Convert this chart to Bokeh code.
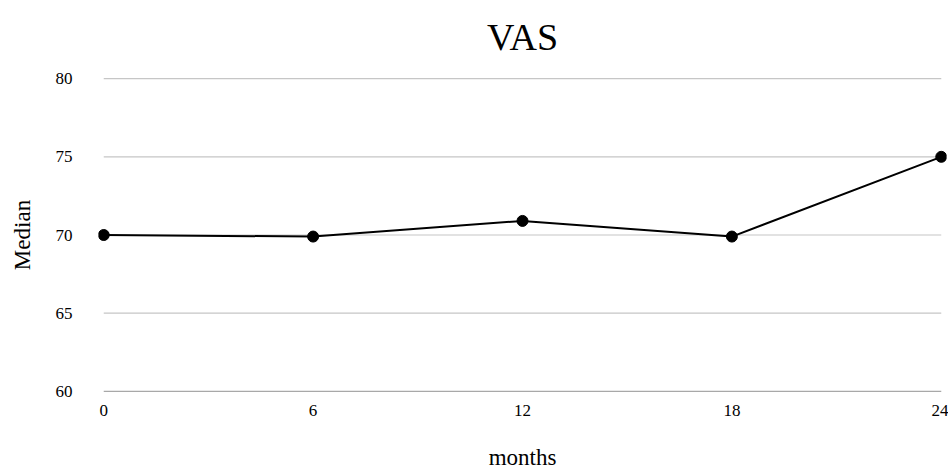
from bokeh.plotting import figure
from bokeh.models import Range1d, FixedTicker, ColumnDataSource
from bokeh.embed import file_html
from bokeh.resources import INLINE

months = [0, 6, 12, 18, 24]
median_vas = [70.0, 69.9, 70.9, 69.9, 75.0]
y_ticks = [60, 65, 70, 75, 80]
x_ticks = [0, 6, 12, 18, 24]

FONT = "Liberation Serif"

p = figure(width=948, height=475, output_backend="svg", toolbar_location=None,
           x_range=Range1d(-0.15, 24.15), y_range=Range1d(59.8, 80.2),
           min_border_left=98, min_border_right=2, min_border_top=75,
           min_border_bottom=81, title="VAS")

p.outline_line_color = None
p.background_fill_color = "white"
p.border_fill_color = "white"
p.xgrid.visible = False
p.ygrid.visible = False

# horizontal gridlines spanning the data x-extent
grid_src = ColumnDataSource(dict(
    x0=[months[0]] * len(y_ticks), x1=[months[-1]] * len(y_ticks),
    y=y_ticks,
    c=["#a8a8a8" if t == y_ticks[0] else "#c6c6c6" for t in y_ticks]))
p.segment(x0="x0", y0="y", x1="x1", y1="y", source=grid_src,
          line_color="c", line_width=1.2)

p.line(months, median_vas, line_color="black", line_width=2)
p.scatter(months, median_vas, size=11, fill_color="black", line_color="black")

p.title.text_font = FONT
p.title.text_font_size = "38px"
p.title.text_font_style = "normal"
p.title.align = "center"
p.title.vertical_align = "top"
p.title.text_color = "black"
p.title.offset = 0
p.title.standoff = 31

for ax in (p.xaxis[0], p.yaxis[0]):
    ax.axis_line_color = None
    ax.major_tick_line_color = None
    ax.minor_tick_line_color = None
    ax.major_tick_out = 0
    ax.major_tick_in = 0
    ax.minor_tick_out = 0
    ax.minor_tick_in = 0
    ax.major_label_text_font = FONT
    ax.major_label_text_font_size = "17px"
    ax.major_label_text_color = "black"
    ax.axis_label_text_font = FONT
    ax.axis_label_text_font_size = "23px"
    ax.axis_label_text_font_style = "normal"
    ax.axis_label_text_color = "black"

p.xaxis.ticker = FixedTicker(ticks=x_ticks)
p.yaxis.ticker = FixedTicker(ticks=y_ticks)
p.xaxis.axis_label = "months"
p.yaxis.axis_label = "Median"
p.xaxis.major_label_standoff = 10
p.yaxis.major_label_standoff = 26
p.xaxis.axis_label_standoff = 26
p.yaxis.axis_label_standoff = 18

open("out.html", "w").write(file_html(p, INLINE))
